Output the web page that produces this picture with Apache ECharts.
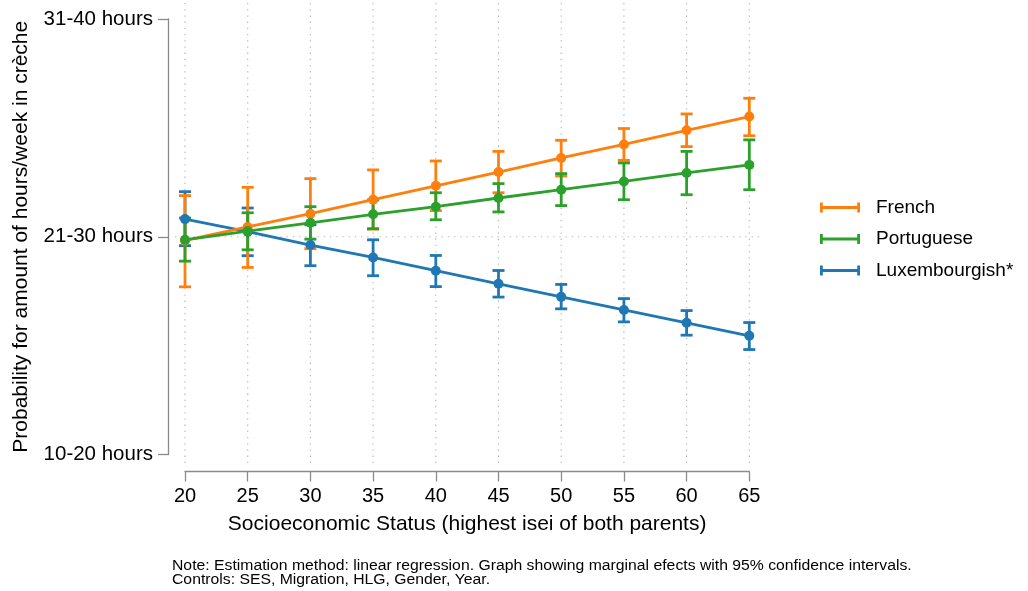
<!DOCTYPE html>
<html>
<head>
<meta charset="utf-8">
<script src="https://cdn.jsdelivr.net/npm/echarts@6/dist/echarts.min.js"></script>
<style>
html,body{margin:0;padding:0;background:#fff;}
#chart{width:1028px;height:591px;}
</style>
</head>
<body>
<div id="chart"></div>
<script>
// ---- data ----
const xValues = [20, 25, 30, 35, 40, 45, 50, 55, 60, 65];
const yTickLabels = ['10-20 hours', '21-30 hours', '31-40 hours'];
const seriesNames = ['Luxembourgish*', 'French', 'Portuguese'];
const legendOrder = ['French', 'Portuguese', 'Luxembourgish*'];

const luxMean = [2.081, 2.023, 1.962, 1.905, 1.844, 1.784, 1.724, 1.664, 1.605, 1.545];
const luxLo   = [1.959, 1.913, 1.867, 1.821, 1.771, 1.723, 1.669, 1.609, 1.548, 1.482];
const luxHi   = [2.207, 2.132, 2.055, 1.986, 1.914, 1.845, 1.781, 1.716, 1.661, 1.606];

const frMean = [1.983, 2.045, 2.106, 2.170, 2.234, 2.297, 2.362, 2.424, 2.489, 2.552];
const frLo   = [1.770, 1.859, 1.945, 2.035, 2.120, 2.202, 2.279, 2.351, 2.414, 2.464];
const frHi   = [2.189, 2.227, 2.267, 2.307, 2.348, 2.392, 2.443, 2.497, 2.564, 2.636];

const ptMean = [1.986, 2.026, 2.064, 2.103, 2.138, 2.178, 2.216, 2.254, 2.293, 2.330];
const ptLo   = [1.888, 1.940, 1.989, 2.037, 2.078, 2.114, 2.143, 2.170, 2.193, 2.216];
const ptHi   = [2.086, 2.110, 2.138, 2.169, 2.202, 2.244, 2.290, 2.339, 2.392, 2.445];

const noteLines = [
  'Note: Estimation method: linear regression. Graph showing marginal efects with 95% confidence intervals.',
  'Controls: SES, Migration, HLG, Gender, Year.'
];

// ---- styles / layout ----
const colors = {'Luxembourgish*': '#1f77b4', 'French': '#ff7f0e', 'Portuguese': '#2ca02c'};
const FONT = '"Liberation Sans", Arial, Helvetica, sans-serif';
const A = {left: 185, right: 749.3, top: 19, bottom: 454.5};   // data grid in px
const B = {left: 175, right: 763, top: 3, bottom: 465};        // background grid lines area
const xMin = 20, xMax = 65, yMin = 1, yMax = 3;
const pxX = (A.right - A.left) / (xMax - xMin);
const pxY = (A.bottom - A.top) / (yMax - yMin);
const bxMin = xMin - (A.left - B.left) / pxX;
const bxMax = xMax + (B.right - A.right) / pxX;
const byMin = yMin - (B.bottom - A.bottom) / pxY;
const byMax = yMax + (A.top - B.top) / pxY;

const dataBy = {
  'Luxembourgish*': {m: luxMean, lo: luxLo, hi: luxHi},
  'French': {m: frMean, lo: frLo, hi: frHi},
  'Portuguese': {m: ptMean, lo: ptLo, hi: ptHi}
};
const LW = 2.8;

function errSeries(name) {
  const d = dataBy[name];
  const col = colors[name];
  return {
    name: name, type: 'custom', xAxisIndex: 0, yAxisIndex: 0, z: 3,
    itemStyle: {color: col},
    data: xValues.map((x, i) => [x, d.lo[i], d.hi[i]]),
    renderItem: function (params, api) {
      const x = api.value(0);
      const p1 = api.coord([x, api.value(1)]);
      const p2 = api.coord([x, api.value(2)]);
      const w = 6;
      const st = {stroke: col, lineWidth: LW};
      return {type: 'group', children: [
        {type: 'line', shape: {x1: p1[0], y1: p1[1], x2: p2[0], y2: p2[1]}, style: st},
        {type: 'line', shape: {x1: p1[0] - w, y1: p1[1], x2: p1[0] + w, y2: p1[1]}, style: st},
        {type: 'line', shape: {x1: p2[0] - w, y1: p2[1], x2: p2[0] + w, y2: p2[1]}, style: st}
      ]};
    }
  };
}
function lineSeries(name) {
  const d = dataBy[name];
  return {
    name: name, type: 'line', xAxisIndex: 0, yAxisIndex: 0, z: 4,
    data: xValues.map((x, i) => [x, d.m[i]]),
    symbol: 'circle', symbolSize: 10, showSymbol: true,
    lineStyle: {color: colors[name], width: LW},
    itemStyle: {color: colors[name], borderWidth: 0},
    emphasis: {disabled: true}, animation: false
  };
}

const gridStyle = {stroke: '#b8b8b8', lineWidth: 1.2, lineDash: [1.3, 4.9]};
const gridSeries = [
  {
    type: 'custom', xAxisIndex: 1, yAxisIndex: 1, z: 1, silent: true,
    data: xValues.map(x => [x]),
    renderItem: function (params, api) {
      const x = api.value(0);
      const p1 = api.coord([x, byMax]);
      const p2 = api.coord([x, byMin]);
      return {type: 'line', shape: {x1: p1[0], y1: p1[1], x2: p2[0], y2: p2[1]}, style: gridStyle};
    }
  },
  {
    type: 'custom', xAxisIndex: 1, yAxisIndex: 1, z: 1, silent: true,
    data: [[2]],
    renderItem: function (params, api) {
      const y = api.value(0);
      const p1 = api.coord([bxMin, y]);
      const p2 = api.coord([bxMax, y]);
      return {type: 'line', shape: {x1: p1[0], y1: p1[1], x2: p2[0], y2: p2[1]}, style: gridStyle};
    }
  }
];

const legendIcon = 'path://M0,0 L2.8,0 L2.8,3.6 L37.2,3.6 L37.2,0 L40,0 L40,10 L37.2,10 L37.2,6.4 L2.8,6.4 L2.8,10 L0,10 Z';

const axisGray = '#8a8a8a';
const option = {
  backgroundColor: '#fff',
  animation: false,
  textStyle: {fontFamily: FONT},
  grid: [
    {left: A.left, top: A.top, width: A.right - A.left, height: A.bottom - A.top, containLabel: false},
    {left: B.left, top: B.top, width: B.right - B.left, height: B.bottom - B.top, containLabel: false}
  ],
  xAxis: [
    {
      type: 'value', gridIndex: 0, min: xMin, max: xMax, interval: 5, offset: 17,
      axisLine: {show: true, lineStyle: {color: axisGray, width: 1.3}},
      axisTick: {show: true, length: 10, lineStyle: {color: axisGray, width: 1.3}},
      axisLabel: {color: '#000', fontSize: 20, fontFamily: FONT, margin: 15},
      splitLine: {show: false},
      name: 'Socioeconomic Status (highest isei of both parents)',
      nameLocation: 'middle', nameGap: 42,
      nameTextStyle: {color: '#000', fontSize: 21, fontFamily: FONT}
    },
    {type: 'value', gridIndex: 1, min: bxMin, max: bxMax, show: false}
  ],
  yAxis: [
    {
      type: 'value', gridIndex: 0, min: yMin, max: yMax, interval: 1, offset: 17,
      axisLine: {show: true, lineStyle: {color: axisGray, width: 1.3}},
      axisTick: {show: true, length: 10, lineStyle: {color: axisGray, width: 1.3}},
      axisLabel: {color: '#000', fontSize: 20.5, fontFamily: FONT, margin: 15,
        formatter: v => yTickLabels[Math.round(v) - 1] || ''},
      splitLine: {show: false},
      name: 'Probability for amount of hours/week in crèche',
      nameLocation: 'middle', nameGap: 136, nameRotate: 90,
      nameTextStyle: {color: '#000', fontSize: 21, fontFamily: FONT}
    },
    {type: 'value', gridIndex: 1, min: byMin, max: byMax, show: false}
  ],
  legend: {
    orient: 'vertical', left: 815, top: 193, itemWidth: 40, itemHeight: 10, itemGap: 12.5,
    data: legendOrder.map(n => ({name: n, icon: legendIcon, itemStyle: {color: colors[n]}})),
    textStyle: {color: '#000', fontSize: 19, fontFamily: FONT, padding: [0, 0, 0, 11]},
    selectedMode: false
  },
  graphic: noteLines.map((t, i) => ({
    type: 'text', x: 172, y: 559 + i * 14, scaleX: 1.125, originX: 0, originY: 0,
    style: {text: t, fill: '#000', fontSize: 14, fontFamily: FONT}
  })),
  series: [].concat(
    gridSeries,
    seriesNames.map(errSeries),
    seriesNames.map(lineSeries)
  )
};

const chart = echarts.init(document.getElementById('chart'), null, {renderer: 'canvas'});
chart.setOption(option);
</script>
</body>
</html>
